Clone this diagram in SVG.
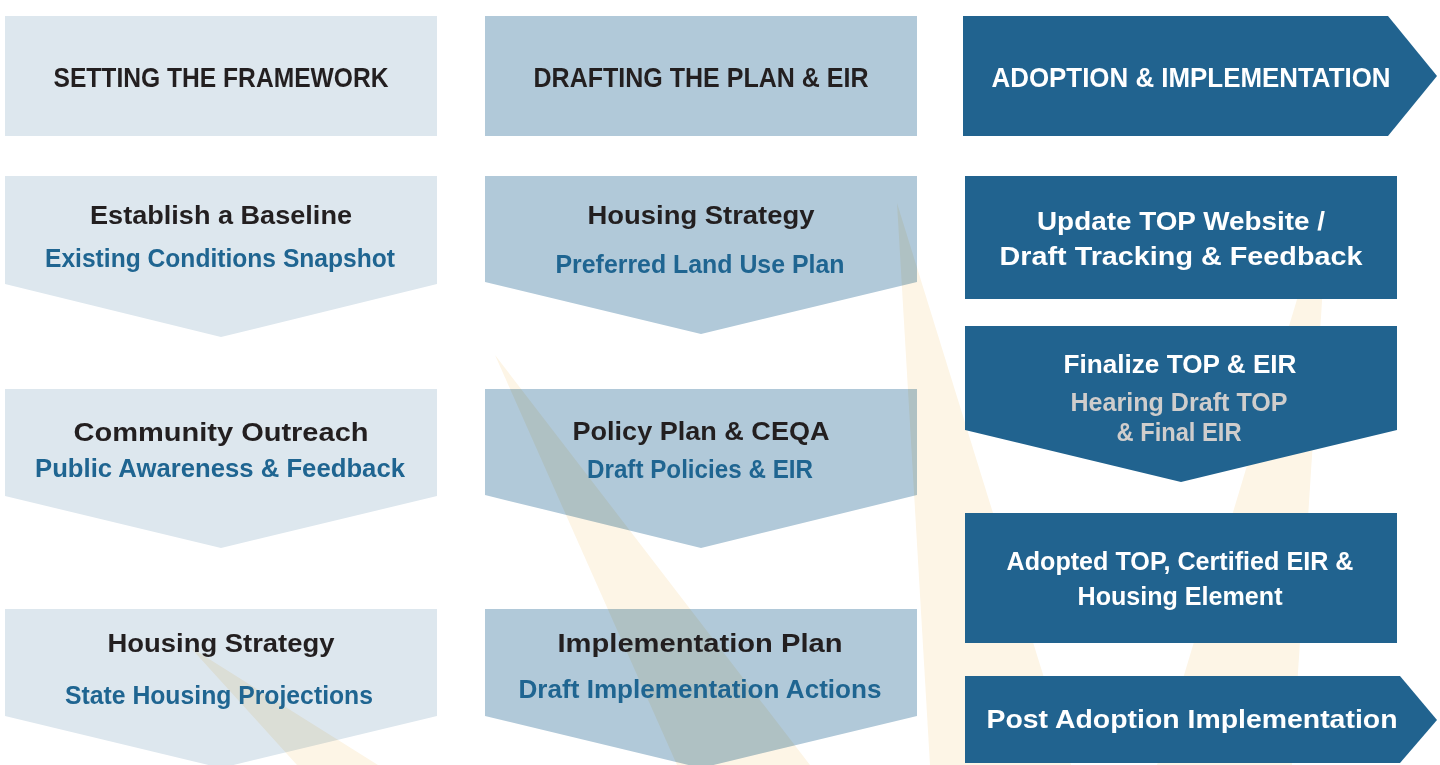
<svg xmlns="http://www.w3.org/2000/svg" width="1440" height="765" viewBox="0 0 1440 765">
<defs>
<style>
.beam{fill:#fdf5e6}
.c1{fill:#dde7ee;mix-blend-mode:multiply}
.c2{fill:#b1c9d9;mix-blend-mode:multiply}
.c3{fill:#21638f}
.t{font-family:"Liberation Sans",Arial,sans-serif;font-weight:bold;text-anchor:middle}
.h{font-size:28px}
.m{font-size:26px}
.k{fill:#231f20}
.b{fill:#1f6591}
.w{fill:#ffffff}
.g{fill:#cfcdcc}
</style>
</defs>
<rect x="0" y="0" width="1440" height="765" fill="#ffffff"/>
<g id="beams">
<polygon class="beam" points="897,203 1071,765 930,765"/>
<polygon class="beam" points="1329,193 1292,765 1157,765"/>
<polygon class="beam" points="495,355 810,765 677,765"/>
<polygon class="beam" points="190,647 378,765 297,765"/>
</g>
<g id="connectors"></g>
<g id="col1-header">
<rect class="c1" x="5" y="16" width="432" height="120"/>
<text class="t h k" x="221" y="87" textLength="335" lengthAdjust="spacingAndGlyphs">SETTING THE FRAMEWORK</text>
</g>
<g id="col1-baseline">
<polygon class="c1" points="5,176 437,176 437,284 221,337 5,284"/>
<text class="t m k" x="221" y="224" textLength="262" lengthAdjust="spacingAndGlyphs">Establish a Baseline</text>
<text class="t m b" x="220" y="267" textLength="350" lengthAdjust="spacingAndGlyphs">Existing Conditions Snapshot</text>
</g>
<g id="col1-outreach">
<polygon class="c1" points="5,389 437,389 437,496 221,548 5,496"/>
<text class="t m k" x="221" y="441" textLength="295" lengthAdjust="spacingAndGlyphs">Community Outreach</text>
<text class="t m b" x="220" y="477" textLength="370" lengthAdjust="spacingAndGlyphs">Public Awareness &amp; Feedback</text>
</g>
<g id="col1-housing">
<polygon class="c1" points="5,609 437,609 437,716 221,768 5,716"/>
<text class="t m k" x="221" y="652" textLength="227" lengthAdjust="spacingAndGlyphs">Housing Strategy</text>
<text class="t m b" x="219" y="704" textLength="308" lengthAdjust="spacingAndGlyphs">State Housing Projections</text>
</g>
<g id="col2-header">
<rect class="c2" x="485" y="16" width="432" height="120"/>
<text class="t h k" x="701" y="87" textLength="335" lengthAdjust="spacingAndGlyphs">DRAFTING THE PLAN &amp; EIR</text>
</g>
<g id="col2-housing">
<polygon class="c2" points="485,176 917,176 917,282 701,334 485,282"/>
<text class="t m k" x="701" y="224" textLength="227" lengthAdjust="spacingAndGlyphs">Housing Strategy</text>
<text class="t m b" x="700" y="273" textLength="289" lengthAdjust="spacingAndGlyphs">Preferred Land Use Plan</text>
</g>
<g id="col2-policy">
<polygon class="c2" points="485,389 917,389 917,495 701,548 485,495"/>
<text class="t m k" x="701" y="440" textLength="257" lengthAdjust="spacingAndGlyphs">Policy Plan &amp; CEQA</text>
<text class="t m b" x="700" y="478" textLength="226" lengthAdjust="spacingAndGlyphs">Draft Policies &amp; EIR</text>
</g>
<g id="col2-implementation">
<polygon class="c2" points="485,609 917,609 917,716 701,768 485,716"/>
<text class="t m k" x="700" y="652" textLength="285" lengthAdjust="spacingAndGlyphs">Implementation Plan</text>
<text class="t m b" x="700" y="698" textLength="363" lengthAdjust="spacingAndGlyphs">Draft Implementation Actions</text>
</g>
<g id="col3-header">
<polygon class="c3" points="963,16 1388,16 1437,76 1388,136 963,136"/>
<text class="t h w" x="1191" y="87" textLength="399" lengthAdjust="spacingAndGlyphs">ADOPTION &amp; IMPLEMENTATION</text>
</g>
<g id="col3-website">
<rect class="c3" x="965" y="176" width="432" height="123"/>
<text class="t m w" x="1181" y="230" textLength="288" lengthAdjust="spacingAndGlyphs">Update TOP Website /</text>
<text class="t m w" x="1181" y="265" textLength="363" lengthAdjust="spacingAndGlyphs">Draft Tracking &amp; Feedback</text>
</g>
<g id="col3-finalize">
<polygon class="c3" points="965,326 1397,326 1397,430 1181,482 965,430"/>
<text class="t m w" x="1180" y="373" textLength="233" lengthAdjust="spacingAndGlyphs">Finalize TOP &amp; EIR</text>
<text class="t m g" x="1179" y="411" textLength="217" lengthAdjust="spacingAndGlyphs">Hearing Draft TOP</text>
<text class="t m g" x="1179" y="441" textLength="125" lengthAdjust="spacingAndGlyphs">&amp; Final EIR</text>
</g>
<g id="col3-adopted">
<rect class="c3" x="965" y="513" width="432" height="130"/>
<text class="t m w" x="1180" y="570" textLength="347" lengthAdjust="spacingAndGlyphs">Adopted TOP, Certified EIR &amp;</text>
<text class="t m w" x="1180" y="605" textLength="205" lengthAdjust="spacingAndGlyphs">Housing Element</text>
</g>
<g id="col3-post">
<polygon class="c3" points="965,676 1400,676 1437,720 1400,763 965,763"/>
<text class="t m w" x="1192" y="728" textLength="411" lengthAdjust="spacingAndGlyphs">Post Adoption Implementation</text>
</g>
</svg>
